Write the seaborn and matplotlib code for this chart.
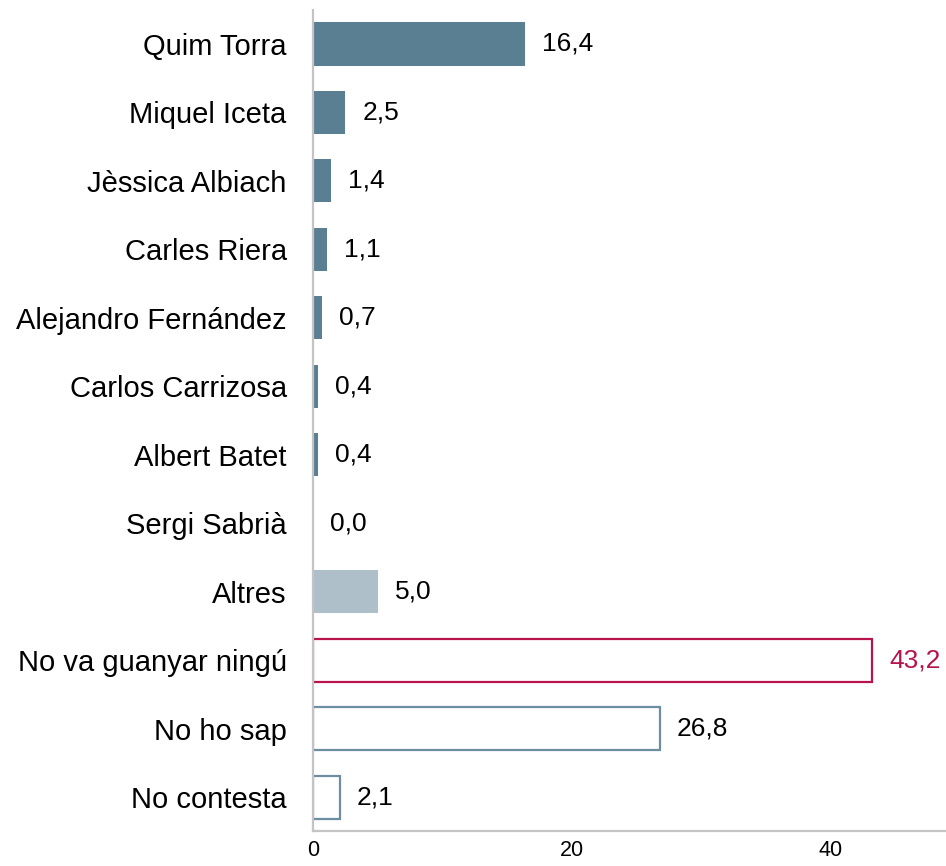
import matplotlib
matplotlib.use("Agg")
import matplotlib.pyplot as plt
import seaborn as sns
import pandas as pd

sns.set_theme(style="white")
plt.rcParams["font.family"] = ["Liberation Sans", "DejaVu Sans"]

# Survey responses: who will win
candidates = [
    "Quim Torra", "Miquel Iceta", "Jèssica Albiach", "Carles Riera",
    "Alejandro Fernández", "Carlos Carrizosa", "Albert Batet", "Sergi Sabrià",
    "Altres", "No va guanyar ningú", "No ho sap", "No contesta",
]
percent = [16.4, 2.5, 1.4, 1.1, 0.7, 0.4, 0.4, 0.0, 5.0, 43.2, 26.8, 2.1]
x_ticks = [0, 20, 40]

# Styling per bar
dark = "#5B7F92"
light = "#AEBFCA"
crimson = "#B7134D"
outline = "#6D8DA0"
fills = [dark] * 8 + [light, "white", "white", "white"]
edges = [dark] * 8 + [light, crimson, outline, outline]
edge_widths = [0] * 9 + [1.6, 1.6, 1.6]
label_colors = ["black"] * 9 + [crimson, "black", "black"]

df = pd.DataFrame({"candidate": candidates, "percent": percent})

fig = plt.figure(figsize=(9.46, 8.66), dpi=100)
ax = fig.add_axes([0.331, 0.040, 0.669, 0.9488])

sns.barplot(
    data=df, x="percent", y="candidate", hue="candidate",
    palette=fills, legend=False, width=0.63, ax=ax, saturation=1,
)

for i, cont in enumerate(ax.containers):
    for bar in cont:
        bar.set_edgecolor(edges[i])
        bar.set_linewidth(edge_widths[i])
    ax.bar_label(
        cont, labels=[f"{percent[i]:.1f}".replace(".", ",")],
        padding=12, fontsize=19, color=label_colors[i],
    )

ax.set_xlim(0, 48.9)
ax.set_ylim(len(candidates) - 0.5, -0.5)
ax.set_xticks(x_ticks)
ax.set_xticklabels([str(t) for t in x_ticks])
ax.set_xlabel("")
ax.set_ylabel("")
ax.tick_params(axis="x", length=0, pad=6, labelsize=15.5, colors="black")
ax.tick_params(axis="y", length=0, pad=19, labelsize=21, colors="black")

for side in ["top", "right"]:
    ax.spines[side].set_visible(False)
for side in ["left", "bottom"]:
    ax.spines[side].set_color("#C4C4C4")
    ax.spines[side].set_linewidth(1.6)

fig.savefig("out.png", dpi=100)
